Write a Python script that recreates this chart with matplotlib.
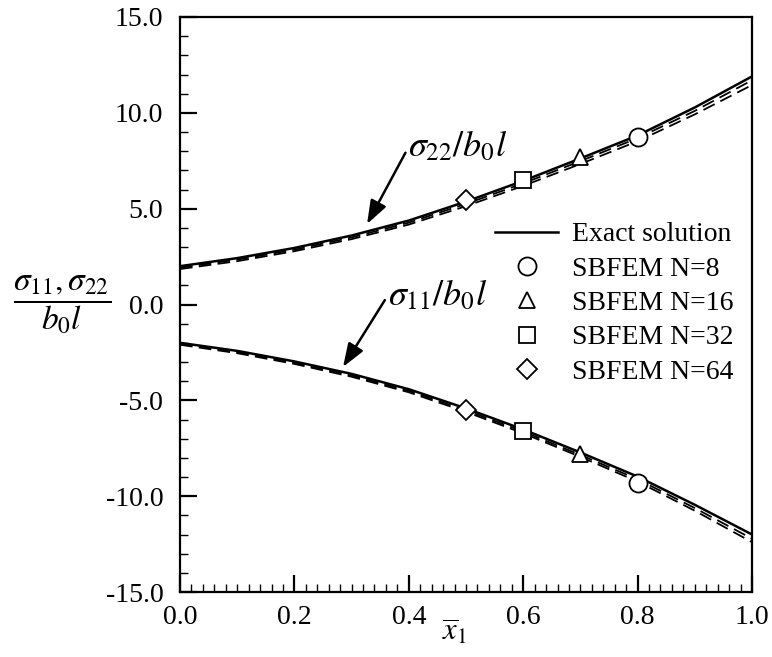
import matplotlib
matplotlib.use("Agg")
import matplotlib.pyplot as plt
from matplotlib.ticker import MultipleLocator, FormatStrFormatter

plt.rcParams['font.family'] = ['Liberation Serif', 'DejaVu Serif']
plt.rcParams['mathtext.fontset'] = 'stix'

# ---- data ----
x = [0.0, 0.1, 0.2, 0.3, 0.4, 0.5, 0.6, 0.7, 0.8, 0.9, 1.0]
s22_exact = [2.00, 2.42, 2.95, 3.60, 4.38, 5.37, 6.45, 7.62, 8.82, 10.28, 11.90]
s22_dash_a = [1.92, 2.34, 2.86, 3.50, 4.27, 5.25, 6.32, 7.48, 8.68, 10.10, 11.70]
s22_dash_b = [1.85, 2.26, 2.78, 3.41, 4.17, 5.13, 6.19, 7.33, 8.52, 9.92, 11.45]
s11_exact = [-2.00, -2.42, -2.97, -3.62, -4.42, -5.42, -6.52, -7.72, -8.98, -10.45, -12.00]
s11_dash_a = [-2.05, -2.48, -3.04, -3.70, -4.51, -5.52, -6.63, -7.85, -9.12, -10.62, -12.22]
s11_dash_b = [-2.10, -2.54, -3.10, -3.77, -4.58, -5.60, -6.72, -7.95, -9.24, -10.76, -12.40]

n_labels = ['SBFEM N=8', 'SBFEM N=16', 'SBFEM N=32', 'SBFEM N=64']
n_markers = ['o', '^', 's', 'D']
n_ms = [13, 12, 11.5, 10]
n_x = [0.8, 0.7, 0.6, 0.5]
n_s22 = [8.72, 7.70, 6.50, 5.45]
n_s11 = [-9.30, -7.80, -6.60, -5.52]

fig = plt.figure(figsize=(7.72, 6.57), dpi=100)
ax = fig.add_axes([180/772, 65/657, 572/772, 575/657])

dash = (0, (7, 3.5))
ax.plot(x, s22_dash_a, color='black', lw=1.3, ls=dash)
ax.plot(x, s22_dash_b, color='black', lw=1.3, ls=dash)
ax.plot(x, s11_dash_a, color='black', lw=1.3, ls=dash)
ax.plot(x, s11_dash_b, color='black', lw=1.3, ls=dash)
ax.plot(x, s22_exact, color='black', lw=1.8, label='Exact solution')
ax.plot(x, s11_exact, color='black', lw=1.8)

for xi, a, b, m, ms, lab in zip(n_x, n_s22, n_s11, n_markers, n_ms, n_labels):
    ax.plot([xi, xi], [a, b], ls='none', marker=m, ms=ms, mfc='white',
            mec='black', mew=1.3, label=lab)

ax.set_xlim(0, 1)
ax.set_ylim(-15, 15)
ax.xaxis.set_major_locator(MultipleLocator(0.2))
ax.xaxis.set_minor_locator(MultipleLocator(0.02))
ax.yaxis.set_major_locator(MultipleLocator(5))
ax.yaxis.set_minor_locator(MultipleLocator(1))
ax.xaxis.set_major_formatter(FormatStrFormatter('%.1f'))
ax.yaxis.set_major_formatter(FormatStrFormatter('%.1f'))
ax.tick_params(which='both', direction='in', top=False, right=False, labelsize=20)
ax.tick_params(which='major', length=12, width=1.6)
ax.tick_params(which='minor', length=6, width=1.0)
ax.tick_params(axis='x', which='major', pad=9)
ax.tick_params(axis='y', which='major', pad=12)
for sp in ax.spines.values():
    sp.set_linewidth(1.6)

# labels
ax.text(-0.206, 0.5, r'$\dfrac{\sigma_{11},\sigma_{22}}{b_0 l}$', transform=ax.transAxes,
        fontsize=24, ha='center', va='center')
ax.text(0.48, -0.07, r'$\overline{x}_1$', transform=ax.transAxes,
        fontsize=22, ha='center', va='center')

arrow = dict(arrowstyle='-|>,head_length=0.55,head_width=0.2',
             color='black', lw=1.8, shrinkA=0, shrinkB=0, relpos=(0.02, 0.6))
ax.annotate(r'$\sigma_{22}/b_0l$', xy=(0.327, 4.2), xytext=(0.399, 8.2),
            fontsize=26, ha='left', va='center', arrowprops=arrow)
ax.annotate(r'$\sigma_{11}/b_0l$', xy=(0.285, -3.26), xytext=(0.363, 0.45),
            fontsize=26, ha='left', va='center', arrowprops=arrow)

ax.legend(loc='upper left', bbox_to_anchor=(495/772, 1 - 222/657),
          bbox_transform=fig.transFigure, frameon=False, fontsize=20,
          handlelength=2.27, handletextpad=0.5, labelspacing=0.32,
          borderpad=0, borderaxespad=0)

fig.savefig('out.png', dpi=100)
